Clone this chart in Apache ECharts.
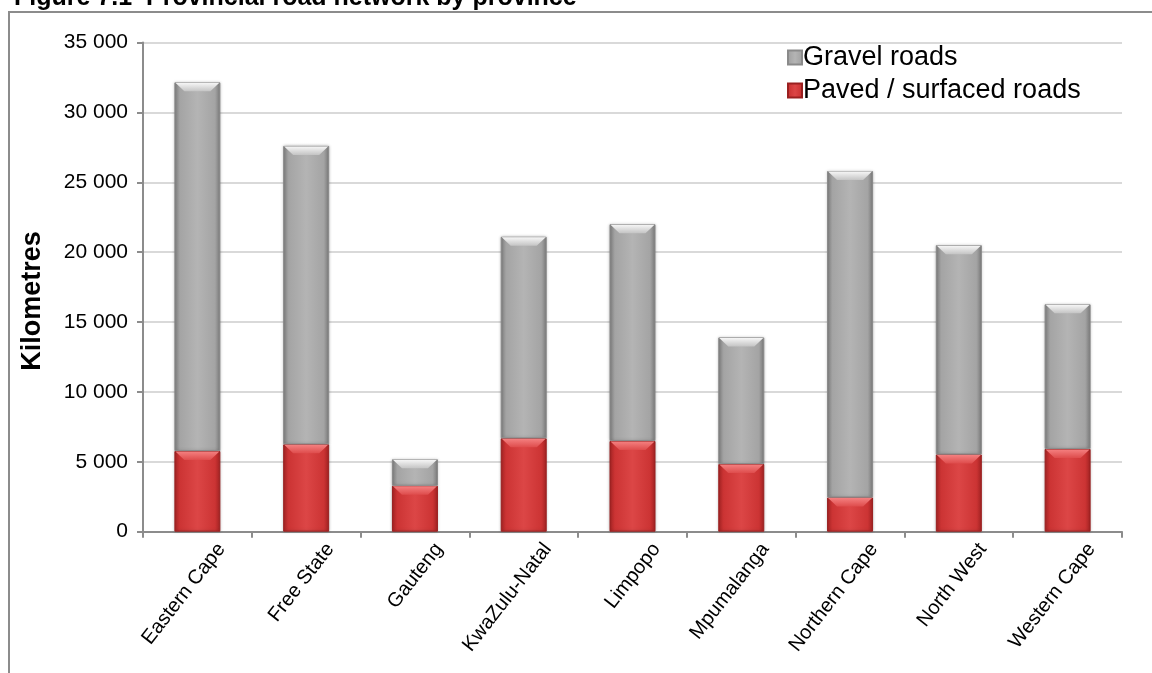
<!DOCTYPE html>
<html>
<head>
<meta charset="utf-8">
<script src="https://cdn.jsdelivr.net/npm/echarts@6/dist/echarts.min.js"></script>
<style>
  html, body { margin: 0; padding: 0; background: #ffffff; }
  #chart { width: 1152px; height: 673px; }
</style>
</head>
<body>
<div id="chart"></div>
<script>
// Provincial road network, kilometres per province
const provinces = ['Eastern Cape', 'Free State', 'Gauteng', 'KwaZulu-Natal', 'Limpopo',
  'Mpumalanga', 'Northern Cape', 'North West', 'Western Cape'];
const pavedKm = [5770, 6250, 3290, 6680, 6490, 4840, 2450, 5530, 5920];
const gravelKm = [26380, 21350, 1890, 14420, 15510, 9060, 23350, 14970, 10350];
const yTicks = [0, 5000, 10000, 15000, 20000, 25000, 30000, 35000];

const FONT = 'Liberation Sans, Arial, sans-serif';
const BAR_W = 46;
const PLOT = { left: 143, right: 30, top: 42.5, bottom: 141.3 };
// slanted category names hang a little to the right of their slot
const LABEL_SHIFT = 24;

function fmtThousands(v) {
  return String(v).replace(/\B(?=(\d{3})+(?!\d))/g, ' ');
}

// Horizontal shading gives the rounded, cylinder-like bar faces
function barShade(edge, mid, light) {
  return new echarts.graphic.LinearGradient(0, 0, 1, 0, [
    { offset: 0, color: edge },
    { offset: 0.12, color: mid },
    { offset: 0.5, color: light },
    { offset: 0.88, color: mid },
    { offset: 1, color: edge }
  ]);
}

function vShade(top, bottom) {
  return new echarts.graphic.LinearGradient(0, 0, 0, 1, [
    { offset: 0, color: top },
    { offset: 1, color: bottom }
  ]);
}

// Bevel highlights sit on the top edge of each stacked segment
const bevelData = provinces.map((p, i) => [i, pavedKm[i], pavedKm[i] + gravelKm[i]]);

function bevelShape(cx, y, color) {
  const h = 9, inset = 9, half = BAR_W / 2 - 1;
  return {
    type: 'polygon',
    shape: {
      points: [
        [cx - half, y + 0.5], [cx + half, y + 0.5],
        [cx + half - inset, y + h], [cx - half + inset, y + h]
      ]
    },
    style: { fill: color }
  };
}

function renderBevel(params, api) {
  const i = api.value(0);
  const pTop = api.coord([i, api.value(1)]);
  const gTop = api.coord([i, api.value(2)]);
  return {
    type: 'group',
    children: [
      bevelShape(pTop[0], pTop[1], vShade('#f48080', '#de4c4c')),
      bevelShape(gTop[0], gTop[1], vShade('#f6f6f6', '#c4c4c4'))
    ]
  };
}

const chart = echarts.init(document.getElementById('chart'), null, { renderer: 'canvas' });

chart.setOption({
  backgroundColor: '#ffffff',
  animation: false,
  title: {
    text: 'Figure 7.1  Provincial road network by province',
    left: 9,
    top: -19,
    textStyle: { fontFamily: FONT, fontSize: 25, fontWeight: 'bold', color: '#000000' }
  },
  graphic: [
    {
      type: 'rect',
      shape: { x: 9, y: 12, width: 1200, height: 700 },
      style: { fill: 'none', stroke: '#8c8c8c', lineWidth: 2 },
      z: -10
    },
    {
      type: 'text',
      x: 33,
      y: 301,
      rotation: Math.PI / 2,
      style: {
        text: 'Kilometres',
        fontFamily: FONT,
        fontSize: 27,
        fontWeight: 'bold',
        fill: '#000000',
        align: 'center',
        verticalAlign: 'middle'
      }
    }
  ],
  legend: {
    data: ['Gravel roads', 'Paved / surfaced roads'],
    orient: 'vertical',
    left: 782,
    top: 39,
    icon: 'rect',
    itemWidth: 14,
    itemHeight: 14,
    itemGap: 6,
    textStyle: { fontFamily: FONT, fontSize: 27, color: '#000000', padding: [0, 0, 0, -4] }
  },
  grid: [
    { left: PLOT.left, right: PLOT.right, top: PLOT.top, bottom: PLOT.bottom },
    // label-only band for the slanted category names
    { left: PLOT.left + LABEL_SHIFT, right: PLOT.right - LABEL_SHIFT, top: PLOT.top, bottom: PLOT.bottom }
  ],
  xAxis: [
    {
      type: 'category',
      gridIndex: 0,
      data: provinces,
      axisLine: { lineStyle: { color: '#8c8c8c', width: 2 } },
      axisTick: { show: true, length: 6, lineStyle: { color: '#8c8c8c', width: 2 } },
      axisLabel: { show: false }
    },
    {
      type: 'category',
      gridIndex: 1,
      data: provinces,
      axisLine: { show: false },
      axisTick: { show: false },
      splitLine: { show: false },
      axisLabel: {
        rotate: 52,
        interval: 0,
        margin: 14,
        fontFamily: FONT,
        fontSize: 20,
        color: '#000000'
      }
    }
  ],
  yAxis: [
    {
      type: 'value',
      gridIndex: 0,
      min: yTicks[0],
      max: yTicks[yTicks.length - 1],
      interval: yTicks[1] - yTicks[0],
      axisLine: { show: true, lineStyle: { color: '#8c8c8c', width: 2 } },
      axisTick: { show: true, length: 6, lineStyle: { color: '#8c8c8c', width: 2 } },
      splitLine: { lineStyle: { color: '#d9d9d9', width: 2 } },
      axisLabel: {
        margin: 15,
        fontFamily: FONT,
        fontSize: 21,
        color: '#000000',
        formatter: fmtThousands
      }
    },
    {
      type: 'value',
      gridIndex: 1,
      show: false,
      min: yTicks[0],
      max: yTicks[yTicks.length - 1]
    }
  ],
  series: [
    {
      name: 'Paved / surfaced roads',
      type: 'bar',
      stack: 'roads',
      barWidth: BAR_W,
      data: pavedKm,
      itemStyle: {
        color: barShade('#a82424', '#cc3434', '#dc4646'),
        borderColor: '#9a2020',
        borderWidth: 1,
        shadowColor: 'rgba(0,0,0,0.25)',
        shadowBlur: 3
      }
    },
    {
      name: 'Gravel roads',
      type: 'bar',
      stack: 'roads',
      barWidth: BAR_W,
      data: gravelKm,
      itemStyle: {
        color: barShade('#7e7e7e', '#a4a4a4', '#b4b4b4'),
        borderColor: '#8a8a8a',
        borderWidth: 1,
        shadowColor: 'rgba(0,0,0,0.25)',
        shadowBlur: 3
      }
    },
    {
      name: 'bevel',
      type: 'custom',
      renderItem: renderBevel,
      data: bevelData,
      z: 5,
      silent: true
    }
  ]
});
</script>
</body>
</html>
